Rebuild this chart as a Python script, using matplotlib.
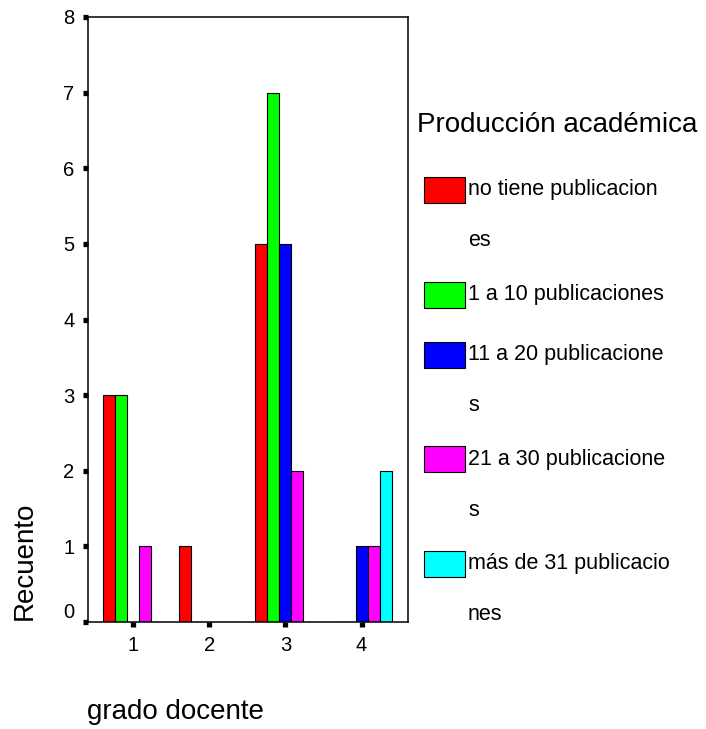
import matplotlib.pyplot as plt
import matplotlib.transforms as mtransforms
import numpy as np

plt.rcParams['font.family'] = ['Liberation Sans', 'DejaVu Sans']

# data
grados = [1, 2, 3, 4]
series = ["no tiene publicaciones", "1 a 10 publicaciones", "11 a 20 publicaciones",
          "21 a 30 publicaciones", "más de 31 publicaciones"]
legend_labels = ["no tiene publicacion\nes", "1 a 10 publicaciones",
                 "11 a 20 publicacione\ns", "21 a 30 publicacione\ns",
                 "más de 31 publicacio\nnes"]
counts = [
    [3, 1, 5, 0],   # no tiene
    [3, 0, 7, 0],   # 1 a 10
    [0, 0, 5, 1],   # 11 a 20
    [1, 0, 2, 1],   # 21 a 30
    [0, 0, 0, 2],   # mas de 31
]
colors = ["#FF0000", "#00FF00", "#0000FF", "#FF00FF", "#00FFFF"]

W, H = 706, 729
fig = plt.figure(figsize=(W / 100, H / 100), dpi=100)
ax = fig.add_axes([88 / W, 1 - 622 / H, (408 - 88) / W, (622 - 17) / H])

x = np.array(grados, dtype=float)
w = 0.158
for i, (vals, c) in enumerate(zip(counts, colors)):
    ax.bar(x + (i - 2) * w, vals, width=w, color=c, edgecolor="black", linewidth=0.8)

ax.set_xlim(0.41, 4.61)
ax.set_ylim(0, 8)
ax.set_xticks(grados)
ax.set_yticks(range(0, 9))
ax.tick_params(direction="out", length=3.8, width=3.8, labelsize=14.5, pad=6, color="black")
for s in ax.spines.values():
    s.set_linewidth(1.1)

# SPSS nudges the "0" label upward
lbl0 = ax.get_yticklabels()[0]
lbl0.set_transform(lbl0.get_transform() + mtransforms.ScaledTranslation(0, 12 / 100, fig.dpi_scale_trans))

fig.text(25 / W, 1 - 620 / H, "Recuento", rotation=90, ha="center", va="bottom", fontsize=20)
fig.text(87 / W, 1 - 719 / H, "grado docente", ha="left", va="baseline", fontsize=20)

# legend
fig.text(417 / W, 1 - 125 / H, "Producción académica", ha="left", va="center", fontsize=20)
row_y = [190, 294.5, 354.5, 459, 563.5]
for lab, c, yc in zip(legend_labels, colors, row_y):
    fig.patches.append(plt.Rectangle((424 / W, 1 - (yc + 13) / H), 41 / W, 26 / H,
                                     transform=fig.transFigure, facecolor=c,
                                     edgecolor="black", linewidth=0.8))
    lines = lab.split("\n")
    for k, ln in enumerate(lines):
        fig.text(468 / W, 1 - (yc + 51 * k) / H, ln, ha="left", va="center", fontsize=15.5)

fig.savefig("out.png", dpi=100)
